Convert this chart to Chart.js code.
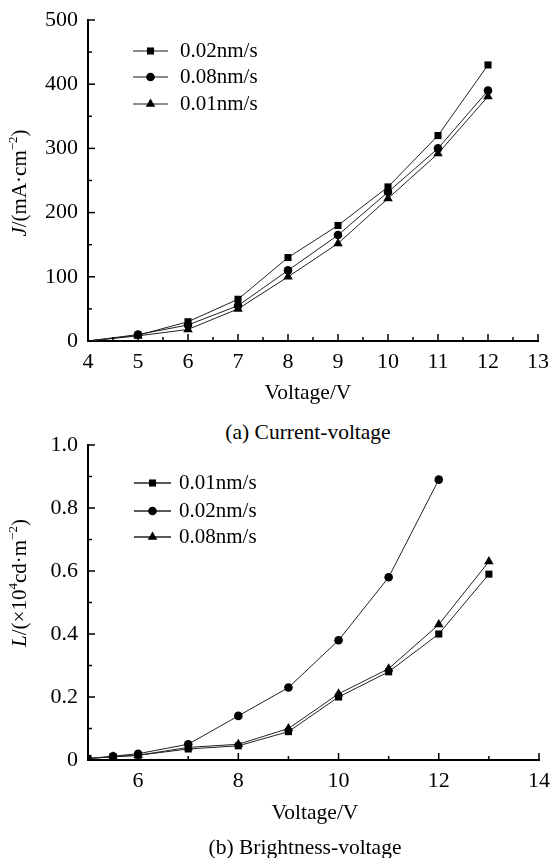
<!DOCTYPE html>
<html>
<head>
<meta charset="utf-8">
<script src="https://cdn.jsdelivr.net/npm/chart.js@4.4.1/dist/chart.umd.min.js"></script>
<style>
    body { margin: 0; background: #fff; }
    #wrap { position: relative; width: 552px; height: 858px; font-family: 'Liberation Serif', 'Times New Roman', serif; color: #000; }
    .box { position: absolute; left: 0; width: 552px; }
    .cap { position: absolute; width: 552px; text-align: center; font-size: 21.5px; line-height: 22px; }
</style>
</head>
<body>
<div id="wrap">
    <div class="box" style="top:0;height:420px"><canvas id="graficoA"></canvas></div>
    <div class="cap" style="top:421px;left:32px">(a) Current-voltage</div>
    <div class="box" style="top:425px;height:433px"><canvas id="graficoB"></canvas></div>
    <div class="cap" style="top:836px;left:29px">(b) Brightness-voltage</div>
</div>
<script>
// ---[ DATI GRAFICO (a) ]---
const voltA = [4, 5, 6, 7, 8, 9, 10, 11, 12];
const j002 = [0, 9, 30, 65, 130, 180, 240, 320, 430];
const j008 = [0, 10, 25, 55, 110, 165, 232, 300, 390];
const j001 = [0, 8, 18, 50, 100, 152, 222, 292, 381];
const tickXA = [4, 5, 6, 7, 8, 9, 10, 11, 12, 13];
const tickYA = [0, 100, 200, 300, 400, 500];

// ---[ DATI GRAFICO (b) ]---
const voltB = [5, 5.5, 6, 7, 8, 9, 10, 11, 12, 13];
const voltB02 = [5, 5.5, 6, 7, 8, 9, 10, 11, 12];
const l001 = [0.005, 0.01, 0.015, 0.035, 0.045, 0.09, 0.2, 0.28, 0.4, 0.59];
const l002 = [0.005, 0.012, 0.02, 0.05, 0.14, 0.23, 0.38, 0.58, 0.89];
const l008 = [0.005, 0.01, 0.015, 0.04, 0.05, 0.1, 0.21, 0.29, 0.43, 0.63];
const tickXB = [6, 8, 10, 12, 14];
const tickYB = [0, 0.2, 0.4, 0.6, 0.8, 1.0];

const FAM = "'Liberation Serif', 'Times New Roman', serif";
Chart.defaults.font.family = FAM;
Chart.defaults.font.size = 22;
Chart.defaults.color = '#000';

// stile marker per serie
const marker = {
    rect: { pointStyle: 'rect', radius: 5 },
    circle: { pointStyle: 'circle', radius: 4.3 },
    triangle: { pointStyle: 'triangle', radius: 5.5 }
};

function serie(label, xs, ys, tipo, xVuoto) {
    return {
        label: label,
        data: xs.map((v, i) => ({ x: v, y: ys[i] })),
        borderColor: '#222',
        borderWidth: 1,
        backgroundColor: '#000',
        pointBackgroundColor: '#000',
        pointBorderColor: '#000',
        pointBorderWidth: 0,
        pointStyle: marker[tipo].pointStyle,
        // il primo punto (sull'asse) non ha marker visibile
        pointRadius: ctx => (ctx.raw && ctx.raw.x === xVuoto) ? 0 : marker[tipo].radius,
        tension: 0,
        tipo: tipo
    };
}

// Titolo asse Y con corsivo e apici
function titoloY(ctx, parti, cx, cy) {
    ctx.save();
    ctx.translate(cx, cy);
    ctx.rotate(-Math.PI / 2);
    ctx.textBaseline = 'middle';
    ctx.fillStyle = '#000';
    const fontDi = p => (p.it ? 'italic ' : '') + (p.sup ? '13px ' : '21px ') + FAM;
    let tot = 0;
    parti.forEach(p => { ctx.font = fontDi(p); p.w = ctx.measureText(p.t).width; tot += p.w; });
    let x = -tot / 2;
    parti.forEach(p => {
        ctx.font = fontDi(p);
        ctx.fillText(p.t, x, p.sup ? -6 : 0);
        x += p.w;
    });
    ctx.restore();
}

// Plugin: tacche interne, legenda e titoli
const pluginAssi = {
    id: 'assiManuali',
    afterDraw(chart, args, o) {
        const ctx = chart.ctx;
        const sx = chart.scales.x, sy = chart.scales.y;
        const a = chart.chartArea;
        ctx.save();
        ctx.strokeStyle = '#000';
        ctx.lineWidth = 1.5;
        // tacche asse X
        for (let v = sx.min; v <= sx.max + 1e-9; v += o.xMinor) {
            const px = sx.getPixelForValue(v);
            const r = v / o.xMajor;
            const lung = Math.abs(r - Math.round(r)) < 1e-6 ? 7 : 4;
            ctx.beginPath(); ctx.moveTo(px, a.bottom); ctx.lineTo(px, a.bottom - lung); ctx.stroke();
        }
        // tacche asse Y
        for (let v = sy.min; v <= sy.max + 1e-9; v += o.yMinor) {
            const py = sy.getPixelForValue(v);
            const r = v / o.yMajor;
            const lung = Math.abs(r - Math.round(r)) < 1e-6 ? 7 : 4;
            ctx.beginPath(); ctx.moveTo(a.left, py); ctx.lineTo(a.left + lung, py); ctx.stroke();
        }
        // legenda
        chart.data.datasets.forEach((ds, i) => {
            const y = o.leg.y[i];
            ctx.strokeStyle = o.leg.lineColor;
            ctx.lineWidth = 1.5;
            ctx.beginPath(); ctx.moveTo(o.leg.x1, y); ctx.lineTo(o.leg.x2, y); ctx.stroke();
            ctx.fillStyle = '#000';
            const m = marker[ds.tipo];
            Chart.helpers.drawPoint(ctx, { pointStyle: m.pointStyle, radius: m.radius, rotation: 0, borderWidth: 0 }, (o.leg.x1 + o.leg.x2) / 2, y);
            ctx.font = '21px ' + FAM;
            ctx.textBaseline = 'middle';
            ctx.textAlign = 'left';
            ctx.fillText(ds.label, o.leg.tx, y);
        });
        // titolo asse X
        ctx.font = '21.5px ' + FAM;
        ctx.textAlign = 'center';
        ctx.textBaseline = 'middle';
        ctx.fillStyle = '#000';
        ctx.fillText(o.xTitle, o.xTitlePos[0], o.xTitlePos[1]);
        ctx.restore();
        titoloY(ctx, o.yTitle, o.yTitlePos[0], o.yTitlePos[1]);
    }
};

function scale(min, max, ticks, altezzaLarghezza, asse, fmt) {
    return {
        type: 'linear',
        min: min,
        max: max,
        afterBuildTicks: s => { s.ticks = ticks.map(v => ({ value: v })); },
        afterFit: s => {
            if (asse === 'x') { s.height = altezzaLarghezza; s.paddingRight = 0; s.paddingLeft = 0; }
            else { s.width = altezzaLarghezza; s.paddingTop = 0; s.paddingBottom = 0; }
        },
        ticks: { padding: asse === 'x' ? 8 : 10, color: '#000', font: { size: 22 }, callback: fmt || (v => v) },
        grid: { display: false, drawTicks: false },
        border: { display: true, color: '#000', width: 2 }
    };
}

//---[ GRAFICO (a) ]---
new Chart(document.getElementById('graficoA').getContext('2d'), {
    type: 'line',
    data: {
        datasets: [
            serie('0.02nm/s', voltA, j002, 'rect', 4),
            serie('0.08nm/s', voltA, j008, 'circle', 4),
            serie('0.01nm/s', voltA, j001, 'triangle', 4)
        ]
    },
    options: {
        responsive: true,
        maintainAspectRatio: false,
        animation: false,
        layout: { padding: { top: 20, right: 14, left: 0, bottom: 0 } },
        scales: {
            x: scale(4, 13, tickXA, 79, 'x'),
            y: scale(0, 500, tickYA, 88, 'y')
        },
        plugins: {
            legend: { display: false },
            tooltip: { enabled: false },
            assiManuali: {
                xMinor: 0.5, xMajor: 1, yMinor: 50, yMajor: 100,
                leg: { x1: 133, x2: 168, tx: 180, y: [51, 77, 104], lineColor: '#666' },
                xTitle: 'Voltage/V', xTitlePos: [308, 393],
                yTitle: [{ t: 'J', it: true }, { t: '/(mA·cm' }, { t: '−2', sup: true }, { t: ')' }],
                yTitlePos: [20, 183]
            }
        }
    },
    plugins: [pluginAssi]
});

//---[ GRAFICO (b) ]---
new Chart(document.getElementById('graficoB').getContext('2d'), {
    type: 'line',
    data: {
        datasets: [
            serie('0.01nm/s', voltB, l001, 'rect', -1),
            serie('0.02nm/s', voltB02, l002, 'circle', 5),
            serie('0.08nm/s', voltB, l008, 'triangle', 5)
        ]
    },
    options: {
        responsive: true,
        maintainAspectRatio: false,
        animation: false,
        layout: { padding: { top: 20, right: 13, left: 0, bottom: 0 } },
        scales: {
            x: scale(5, 14, tickXB, 98, 'x'),
            y: scale(0, 1.0, tickYB, 88, 'y', v => v === 0 ? '0' : v.toFixed(1))
        },
        plugins: {
            legend: { display: false },
            tooltip: { enabled: false },
            assiManuali: {
                xMinor: 1, xMajor: 2, yMinor: 0.1, yMajor: 0.2,
                leg: { x1: 134, x2: 171, tx: 179, y: [58, 86, 112], lineColor: '#222' },
                xTitle: 'Voltage/V', xTitlePos: [315, 388],
                yTitle: [{ t: 'L', it: true }, { t: '/(×10' }, { t: '4', sup: true }, { t: 'cd·m' }, { t: '−2', sup: true }, { t: ')' }],
                yTitlePos: [20, 158]
            }
        }
    },
    plugins: [pluginAssi]
});
</script>
</body>
</html>
